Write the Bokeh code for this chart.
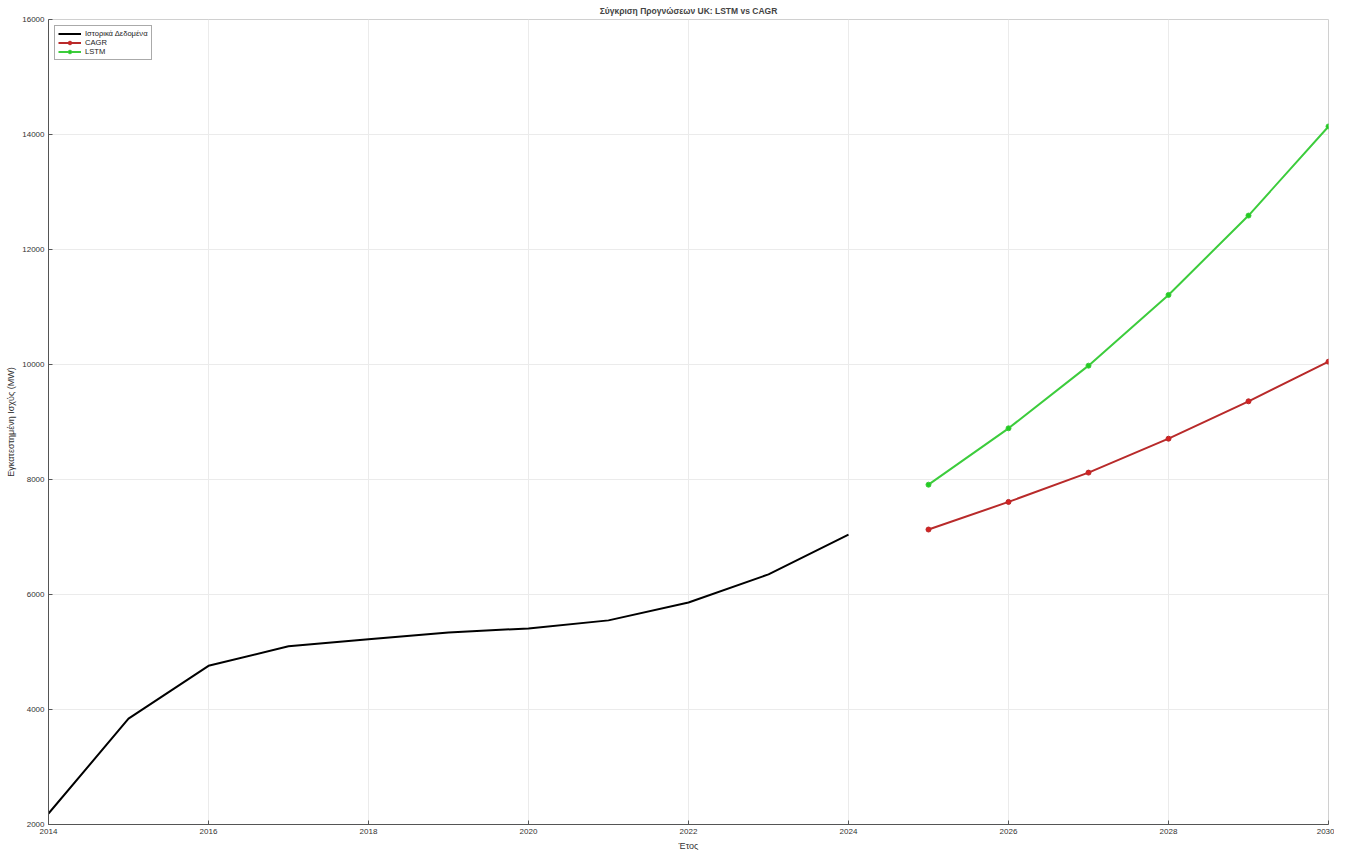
from bokeh.plotting import figure
from bokeh.embed import file_html
from bokeh.resources import INLINE
from bokeh.models import Range1d, FixedTicker, Legend, LegendItem

hist_years = [2014, 2015, 2016, 2017, 2018, 2019, 2020, 2021, 2022, 2023, 2024]
hist_values = [2190, 3840, 4760, 5100, 5220, 5340, 5410, 5550, 5860, 6350, 7040]

fc_years = [2025, 2026, 2027, 2028, 2029, 2030]
cagr_values = [7130, 7610, 8120, 8710, 9360, 10050]
lstm_values = [7910, 8890, 9980, 11210, 12590, 14140]

x_ticks = [2014, 2016, 2018, 2020, 2022, 2024, 2026, 2028, 2030]
y_ticks = [2000, 4000, 6000, 8000, 10000, 12000, 14000, 16000]

FONT = "Liberation Sans"

p = figure(frame_width=1280, frame_height=805, output_backend="svg",
           toolbar_location=None, x_range=Range1d(2014, 2030),
           y_range=Range1d(2000, 16000),
           title="Σύγκριση Προγνώσεων UK: LSTM vs CAGR",
           min_border_left=48, min_border_right=6, min_border_top=16,
           min_border_bottom=20)
p.title.align = "center"
p.title.text_font = FONT
p.title.text_font_size = "8.5px"
p.title.text_font_style = "bold"
p.title.standoff = 7
p.title.offset = 0

p.outline_line_color = "#d0d0d0"
p.background_fill_color = "white"
p.border_fill_color = "white"

for ax in (p.xaxis[0], p.yaxis[0]):
    ax.major_tick_in = 4
    ax.major_tick_out = 0
    ax.minor_tick_in = 0
    ax.minor_tick_out = 0
    ax.axis_line_color = "#555555"
    ax.major_tick_line_color = "#555555"
    ax.major_label_text_font = FONT
    ax.major_label_text_font_size = "8px"
    ax.major_label_text_color = "#333333"
    ax.axis_label_text_font = FONT
    ax.axis_label_text_font_size = "9px"
    ax.axis_label_text_font_style = "normal"
    ax.axis_label_text_color = "#333333"
    ax.axis_label_standoff = 3
    ax.major_label_standoff = 4

p.xaxis[0].axis_label_standoff = 4
p.xaxis[0].major_label_standoff = 4
p.xaxis[0].ticker = FixedTicker(ticks=x_ticks)
p.yaxis[0].ticker = FixedTicker(ticks=y_ticks)
p.xaxis[0].axis_label = "Έτος"
p.yaxis[0].axis_label = "Εγκατεστημένη Ισχύς (MW)"

p.grid.grid_line_color = "#ebebeb"
p.grid.grid_line_width = 1

r_hist = p.line(hist_years, hist_values, line_color="black", line_width=2)
r_cagr = p.line(fc_years, cagr_values, line_color="#b82a2a", line_width=2)
r_cagr_m = p.scatter(fc_years, cagr_values, size=5, fill_color="#d62222",
                     line_color="#b82a2a")
r_lstm = p.line(fc_years, lstm_values, line_color="#3ccc3c", line_width=2)
r_lstm_m = p.scatter(fc_years, lstm_values, size=5, fill_color="#22cc22",
                     line_color="#3ccc3c")

legend = Legend(items=[
    LegendItem(label="Ιστορικά Δεδομένα", renderers=[r_hist]),
    LegendItem(label="CAGR", renderers=[r_cagr, r_cagr_m]),
    LegendItem(label="LSTM", renderers=[r_lstm, r_lstm_m]),
], location="top_left")
legend.label_text_font = FONT
legend.label_text_font_size = "7.6px"
legend.label_text_color = "#222222"
legend.glyph_height = 9
legend.glyph_width = 23
legend.label_height = 9
legend.spacing = 0
legend.padding = 3
legend.margin = 6
legend.label_standoff = 4
legend.border_line_color = "#555555"
legend.border_line_width = 1
legend.background_fill_alpha = 1
p.add_layout(legend)

open("out.html", "w").write(file_html(p, INLINE))
